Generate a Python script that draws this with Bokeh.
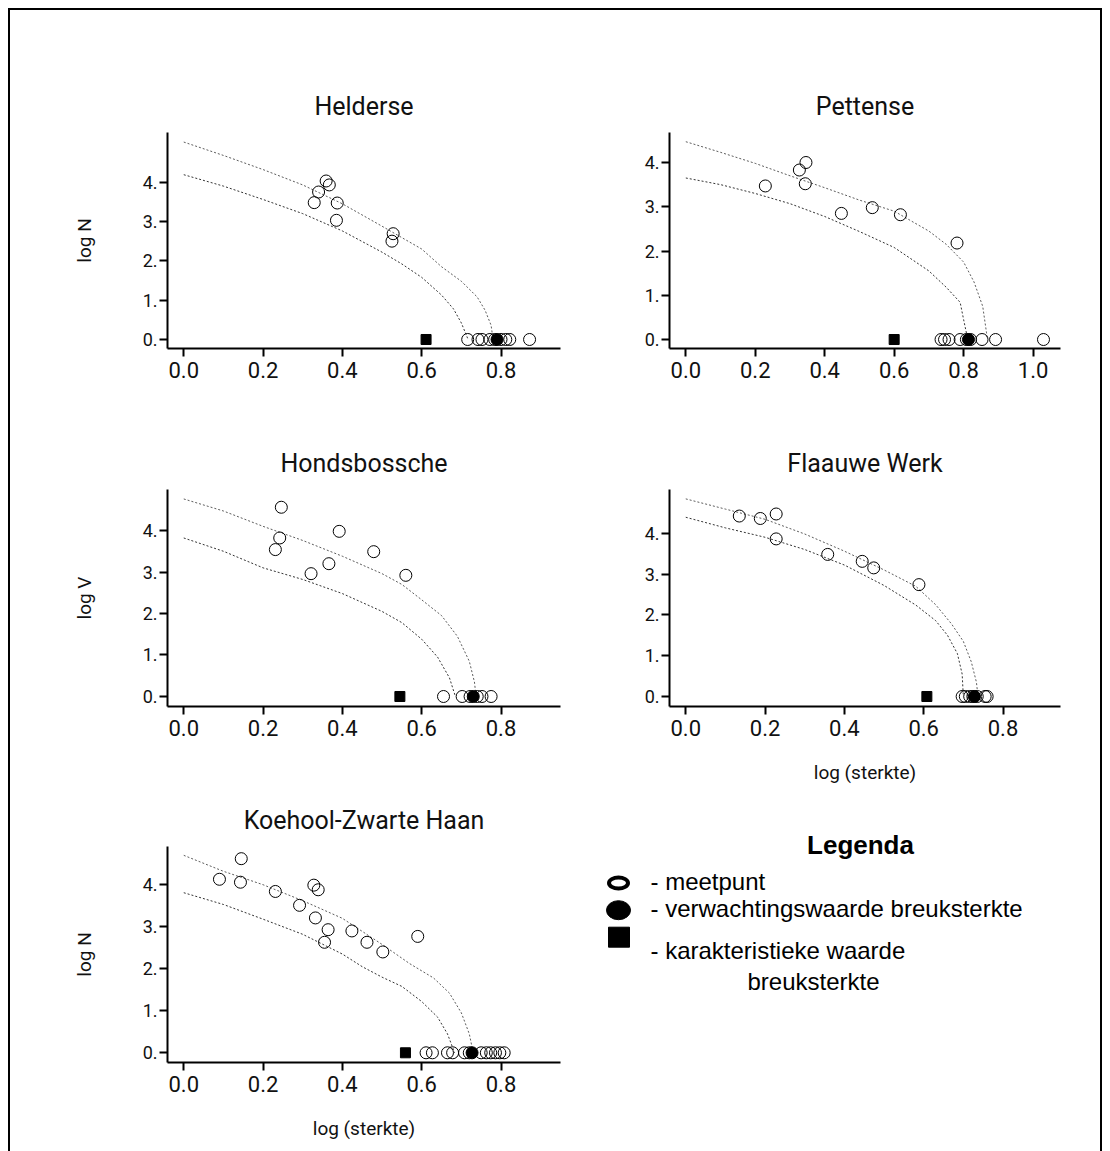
from bokeh.plotting import figure
from bokeh.layouts import column, row
from bokeh.models import Range1d, FixedTicker
from bokeh.core.properties import value
from bokeh.embed import file_html
from bokeh.resources import INLINE

# ---------------- data ----------------
TITLES = ["Helderse", "Pettense", "Hondsbossche", "Flaauwe Werk", "Koehool-Zwarte Haan"]
Y_LABELS = ["log N", None, "log V", None, "log N"]
X_LABELS = [None, None, None, "log (sterkte)", "log (sterkte)"]

x_ticks_short = [0.0, 0.2, 0.4, 0.6, 0.8]
x_ticks_long = [0.0, 0.2, 0.4, 0.6, 0.8, 1.0]
x_tick_labels_long = ["0.0", "0.2", "0.4", "0.6", "0.8", "1.0"]
y_ticks = [0, 1, 2, 3, 4]
y_tick_labels = ["0.", "1.", "2.", "3.", "4."]

# Helderse
helderse_x = [0.359, 0.367, 0.340, 0.329, 0.387, 0.385, 0.528, 0.525]
helderse_y = [4.03, 3.93, 3.75, 3.48, 3.47, 3.03, 2.69, 2.50]
helderse_zero = [0.716, 0.742, 0.752, 0.772, 0.784, 0.800, 0.812, 0.822, 0.872]
helderse_expected = [0.790]
helderse_charact = [0.611]
helderse_up_x = [0.0, 0.1, 0.2, 0.3, 0.4, 0.5, 0.6, 0.65, 0.7, 0.74, 0.76, 0.775, 0.780]
helderse_up_y = [5.02, 4.68, 4.32, 3.93, 3.45, 2.88, 2.30, 1.85, 1.48, 1.08, 0.74, 0.36, 0.0]
helderse_lo_x = [0.0, 0.1, 0.2, 0.3, 0.4, 0.5, 0.55, 0.6, 0.65, 0.68, 0.70, 0.717]
helderse_lo_y = [4.19, 3.90, 3.56, 3.20, 2.76, 2.22, 1.92, 1.58, 1.13, 0.78, 0.42, 0.0]

# Pettense
pettense_x = [0.229, 0.327, 0.346, 0.344, 0.448, 0.537, 0.618, 0.781]
pettense_y = [3.47, 3.83, 4.00, 3.52, 2.85, 2.98, 2.82, 2.18]
pettense_zero = [0.735, 0.745, 0.758, 0.790, 0.808, 0.820, 0.853, 0.892, 1.030]
pettense_expected = [0.814]
pettense_charact = [0.600]
pettense_up_x = [0.0, 0.1, 0.2, 0.3, 0.4, 0.5, 0.6, 0.7, 0.75, 0.8, 0.83, 0.855, 0.866, 0.868]
pettense_up_y = [4.47, 4.23, 3.98, 3.70, 3.43, 3.15, 2.90, 2.45, 2.15, 1.75, 1.30, 0.75, 0.15, 0.0]
pettense_lo_x = [0.0, 0.1, 0.2, 0.3, 0.4, 0.5, 0.6, 0.7, 0.75, 0.79, 0.80, 0.812]
pettense_lo_y = [3.65, 3.50, 3.30, 3.07, 2.78, 2.44, 2.08, 1.55, 1.18, 0.84, 0.45, 0.0]

# Hondsbossche
hondsbossche_x = [0.246, 0.242, 0.231, 0.321, 0.366, 0.392, 0.479, 0.560]
hondsbossche_y = [4.56, 3.82, 3.54, 2.96, 3.20, 3.98, 3.49, 2.92]
hondsbossche_zero = [0.655, 0.702, 0.722, 0.740, 0.752, 0.775]
hondsbossche_expected = [0.730]
hondsbossche_charact = [0.545]
hondsbossche_up_x = [0.0, 0.1, 0.2, 0.3, 0.4, 0.5, 0.55, 0.6, 0.65, 0.69, 0.72, 0.733, 0.737]
hondsbossche_up_y = [4.76, 4.47, 4.10, 3.76, 3.38, 2.96, 2.70, 2.33, 1.95, 1.45, 0.85, 0.35, 0.0]
hondsbossche_lo_x = [0.0, 0.1, 0.2, 0.3, 0.4, 0.5, 0.55, 0.6, 0.64, 0.67, 0.685]
hondsbossche_lo_y = [3.82, 3.50, 3.10, 2.82, 2.48, 2.05, 1.78, 1.38, 0.95, 0.45, 0.0]

# Flaauwe Werk
flaauwe_x = [0.135, 0.188, 0.228, 0.228, 0.358, 0.445, 0.474, 0.588]
flaauwe_y = [4.42, 4.36, 4.47, 3.86, 3.48, 3.31, 3.15, 2.74]
flaauwe_zero = [0.697, 0.705, 0.716, 0.724, 0.735, 0.755, 0.760]
flaauwe_expected = [0.728]
flaauwe_charact = [0.608]
flaauwe_up_x = [0.0, 0.1, 0.2, 0.3, 0.4, 0.5, 0.58, 0.63, 0.67, 0.70, 0.72, 0.733, 0.737]
flaauwe_up_y = [4.84, 4.59, 4.34, 3.98, 3.56, 3.10, 2.70, 2.25, 1.78, 1.35, 0.85, 0.35, 0.0]
flaauwe_lo_x = [0.0, 0.1, 0.2, 0.3, 0.4, 0.5, 0.58, 0.63, 0.66, 0.685, 0.697, 0.700]
flaauwe_lo_y = [4.39, 4.13, 3.90, 3.60, 3.22, 2.72, 2.24, 1.86, 1.50, 1.05, 0.55, 0.0]

# Koehool-Zwarte Haan
koehool_x = [0.090, 0.145, 0.143, 0.231, 0.292, 0.328, 0.339, 0.332, 0.364, 0.355, 0.424, 0.462, 0.502, 0.590]
koehool_y = [4.13, 4.62, 4.06, 3.84, 3.51, 3.99, 3.88, 3.21, 2.93, 2.63, 2.90, 2.63, 2.40, 2.77]
koehool_zero = [0.611, 0.627, 0.665, 0.678, 0.708, 0.720, 0.750, 0.763, 0.774, 0.786, 0.797, 0.808]
koehool_expected = [0.727]
koehool_charact = [0.559]
koehool_up_x = [0.0, 0.1, 0.2, 0.3, 0.4, 0.5, 0.57, 0.63, 0.67, 0.70, 0.72, 0.730]
koehool_up_y = [4.70, 4.32, 4.00, 3.62, 3.20, 2.58, 2.12, 1.78, 1.42, 0.95, 0.45, 0.0]
koehool_lo_x = [0.0, 0.1, 0.2, 0.3, 0.4, 0.45, 0.5, 0.55, 0.6, 0.64, 0.665, 0.683]
koehool_lo_y = [3.81, 3.53, 3.18, 2.82, 2.35, 2.05, 1.80, 1.58, 1.22, 0.85, 0.45, 0.0]

LEGEND_TITLE = "Legenda"
LEGEND_LABELS = ["- meetpunt", "- verwachtingswaarde breuksterkte", "- karakteristieke waarde", "breuksterkte"]

# ---------------- styling ----------------
NARROW = "Roboto"
SANS = "Liberation Sans"
CURVE_COLOR = "#333333"


def make_panel(idx, pts_x, pts_y, zero_x, exp_x, char_x, up_x, up_y, lo_x, lo_y,
               xticks, xr, yr, left, frame_w, right, top, frame_h, bottom):
    p = figure(frame_width=frame_w, frame_height=frame_h,
               x_range=Range1d(*xr), y_range=Range1d(*yr),
               min_border_left=left, min_border_right=right,
               min_border_top=top, min_border_bottom=bottom,
               output_backend="svg", toolbar_location=None,
               title=TITLES[idx])
    p.title.align = "center"
    p.title.text_font = NARROW
    p.title.text_font_size = "25px"
    p.title.text_font_style = "normal"
    p.title.text_color = "#111111"
    p.title.standoff = 24
    p.outline_line_color = None
    p.grid.visible = False
    p.background_fill_color = "white"
    p.border_fill_color = "white"

    for ax in (p.xaxis[0], p.yaxis[0]):
        ax.axis_line_width = 2
        ax.axis_line_color = "black"
        ax.major_tick_line_width = 2
        ax.major_tick_line_color = "black"
        ax.major_tick_out = 8
        ax.major_tick_in = 0
        ax.minor_tick_line_color = None
        ax.major_label_text_font = NARROW
        ax.major_label_text_color = "#111111"
        ax.axis_label_text_font = NARROW
        ax.axis_label_text_font_style = "normal"
        ax.axis_label_text_font_size = "19px"
        ax.axis_label_text_color = "#111111"

    xa = p.xaxis[0]
    xa.ticker = FixedTicker(ticks=xticks)
    xa.major_label_overrides = {t: lab for t, lab in zip(x_ticks_long, x_tick_labels_long) if t in xticks}
    xa.major_label_text_font_size = "22px"
    xa.major_label_standoff = 5
    if X_LABELS[idx]:
        xa.axis_label = X_LABELS[idx]
        xa.axis_label_standoff = 22

    ya = p.yaxis[0]
    ya.ticker = FixedTicker(ticks=y_ticks)
    ya.major_label_overrides = dict(zip(y_ticks, y_tick_labels))
    ya.major_label_text_font_size = "18px"
    ya.major_label_standoff = 2
    if Y_LABELS[idx]:
        ya.axis_label = Y_LABELS[idx]
        ya.axis_label_standoff = 44

    p.line(up_x, up_y, line_color=CURVE_COLOR, line_width=1, line_dash="2 2", line_alpha=0.8)
    p.line(lo_x, lo_y, line_color=CURVE_COLOR, line_width=1, line_dash="2 2")
    p.scatter(pts_x, pts_y, marker="circle", size=12, fill_color=None, line_color="black", line_width=1)
    p.scatter(zero_x, [0.0] * len(zero_x), marker="circle", size=12, fill_color=None,
              line_color="black", line_width=1)
    p.scatter(exp_x, [0.0] * len(exp_x), marker="circle", size=12, fill_color="black", line_color="black")
    p.scatter(char_x, [0.0] * len(char_x), marker="square", size=10, fill_color="black", line_color="black")
    return p


p1 = make_panel(0, helderse_x, helderse_y, helderse_zero, helderse_expected, helderse_charact,
                helderse_up_x, helderse_up_y, helderse_lo_x, helderse_lo_y,
                x_ticks_short, (-0.041, 0.950), (-0.229, 5.263),
                157, 393, 30, 122, 216, 52)
p2 = make_panel(1, pettense_x, pettense_y, pettense_zero, pettense_expected, pettense_charact,
                pettense_up_x, pettense_up_y, pettense_lo_x, pettense_lo_y,
                x_ticks_long, (-0.047, 1.079), (-0.203, 4.678),
                79, 391, 40, 122, 216, 52)
p3 = make_panel(2, hondsbossche_x, hondsbossche_y, hondsbossche_zero, hondsbossche_expected, hondsbossche_charact,
                hondsbossche_up_x, hondsbossche_up_y, hondsbossche_lo_x, hondsbossche_lo_y,
                x_ticks_short, (-0.041, 0.950), (-0.241, 4.988),
                157, 393, 30, 89, 217, 84)
p4 = make_panel(3, flaauwe_x, flaauwe_y, flaauwe_zero, flaauwe_expected, flaauwe_charact,
                flaauwe_up_x, flaauwe_up_y, flaauwe_lo_x, flaauwe_lo_y,
                x_ticks_short, (-0.041, 0.945), (-0.245, 5.07),
                79, 391, 40, 89, 217, 84)
p5 = make_panel(4, koehool_x, koehool_y, koehool_zero, koehool_expected, koehool_charact,
                koehool_up_x, koehool_up_y, koehool_lo_x, koehool_lo_y,
                x_ticks_short, (-0.041, 0.950), (-0.231, 4.91),
                157, 393, 30, 56, 216, 89)

# ---------------- legend panel (coordinates = page pixels of the legend box) ----------------
leg = figure(frame_width=510, frame_height=216, x_range=Range1d(590, 1100), y_range=Range1d(1062, 846),
             min_border_left=0, min_border_right=0, min_border_top=56, min_border_bottom=89,
             x_axis_type=None, y_axis_type=None,
             output_backend="svg", toolbar_location=None)
leg.outline_line_color = None
leg.grid.visible = False
leg.text(x=[860], y=[844], text=[LEGEND_TITLE], text_font=value(SANS), text_font_size="26px",
         text_font_style="bold", text_align="center", text_baseline="alphabetic", text_color="black",
         level="overlay")
leg.ellipse(x=[618], y=[882.5], width=19, height=11, fill_color=None, line_color="black", line_width=4,
            level="overlay")
leg.ellipse(x=[618], y=[909.7], width=24, height=19, fill_color="black", line_color="black", level="overlay")
leg.rect(x=[618.5], y=[936.7], width=21, height=20, fill_color="black", line_color="black", level="overlay")
leg.text(x=[650, 650, 650, 747], y=[881, 908, 950, 981], text=LEGEND_LABELS, text_font=value(SANS),
         text_font_size="24px", text_align="left", text_baseline="alphabetic", text_color="black",
         level="overlay")

layout = column(row(p1, p2), row(p3, p4), row(p5, leg),
                styles={"margin-left": "8px", "margin-top": "8px",
                        "border-top": "2px solid black", "border-left": "2px solid black",
                        "border-right": "2px solid black"})

open("out.html", "w").write(file_html(layout, INLINE))
